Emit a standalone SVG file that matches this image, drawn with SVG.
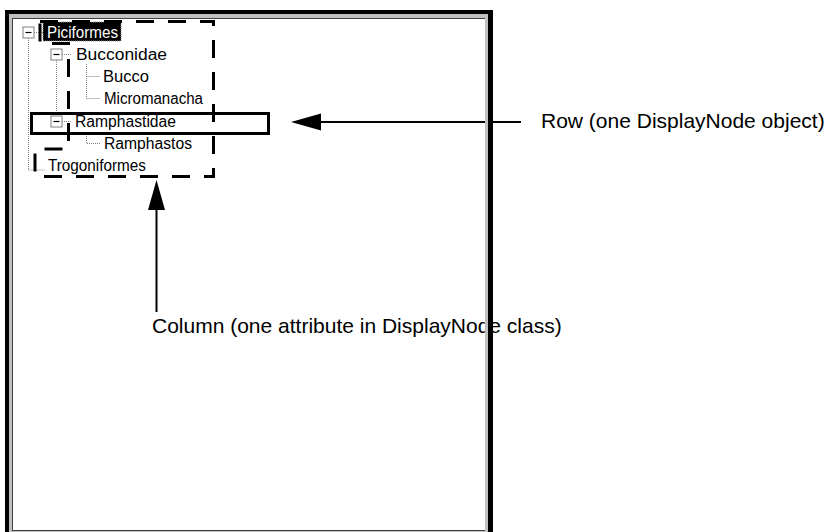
<svg xmlns="http://www.w3.org/2000/svg" width="830" height="532" viewBox="0 0 830 532">
<style>
.tree{font-family:"Liberation Sans",Arial,sans-serif;font-size:16px;fill:#000}
.lbl{font-family:"Liberation Sans",Arial,sans-serif;font-size:21px;fill:#000}
.dot{stroke:#808080;stroke-width:1;stroke-dasharray:1 1;fill:none}
.btn{fill:#fff;stroke:#808080;stroke-width:1}
.minus{stroke:#000;stroke-width:1.2}
.conn{stroke:#000;stroke-width:2;fill:none}
.head{fill:#000}
</style>
<rect width="830" height="532" fill="#fff"/>
<g id="frame">
<rect x="5" y="10" width="488" height="524" fill="#000"/>
<rect x="9" y="14" width="480" height="520" fill="#c0c0c0"/>
<rect x="12" y="18" width="474" height="513" fill="#404040"/>
<rect x="13" y="19" width="472" height="511" fill="#fff"/>
</g>
<g id="tree-lines">
<path class="dot" d="M28.5,38 V170 H45"/>
<path class="dot" d="M34,32.5 H43"/>
<path class="dot" d="M56.5,60 V115"/>
<path class="dot" d="M62,54.5 H72 M62,121.5 H72"/>
<path class="dot" d="M86.5,64 V98.5 M86.5,76.5 H100 M86.5,98.5 H100"/>
<path class="dot" d="M86.5,132 V143.5 H100"/>
</g>
<g id="node-piciformes">
<rect class="btn" x="23" y="27" width="11" height="11"/>
<line class="minus" x1="25.5" y1="32.5" x2="31.5" y2="32.5"/>
<rect x="43" y="22" width="78" height="19" fill="#000" stroke="#999" stroke-dasharray="1 1"/>
<text class="tree" x="47" y="37.5" textLength="71" lengthAdjust="spacingAndGlyphs" style="fill:#fff">Piciformes</text>
</g>
<g id="node-bucconidae">
<rect class="btn" x="51" y="49" width="11" height="11"/>
<line class="minus" x1="53.5" y1="54.5" x2="59.5" y2="54.5"/>
<text class="tree" x="76" y="59.5" textLength="91" lengthAdjust="spacingAndGlyphs">Bucconidae</text>
</g>
<g id="node-bucco">
<text class="tree" x="103" y="82" textLength="46" lengthAdjust="spacingAndGlyphs">Bucco</text>
</g>
<g id="node-micromanacha">
<text class="tree" x="104" y="104" textLength="99" lengthAdjust="spacingAndGlyphs">Micromanacha</text>
</g>
<g id="node-ramphastidae">
<rect class="btn" x="51" y="116" width="11" height="11"/>
<line class="minus" x1="53.5" y1="121.5" x2="59.5" y2="121.5"/>
<text class="tree" x="75" y="126.5" textLength="101" lengthAdjust="spacingAndGlyphs">Ramphastidae</text>
</g>
<g id="node-ramphastos">
<text class="tree" x="104" y="148.5" textLength="88" lengthAdjust="spacingAndGlyphs">Ramphastos</text>
</g>
<g id="node-trogoniformes">
<text class="tree" x="48" y="170.5" textLength="98" lengthAdjust="spacingAndGlyphs">Trogoniformes</text>
</g>
<g id="column-highlight">
<path d="M40,21.5 H213.5 V176.5 H35 V149 H68.5 V43.5 H40 Z" fill="none" stroke="#000" stroke-width="3" stroke-dasharray="18 14"/>
</g>
<g id="row-highlight">
<rect x="31.5" y="113.5" width="237" height="20" fill="none" stroke="#000" stroke-width="3"/>
</g>
<g id="connectors">
<line class="conn" x1="521" y1="122" x2="318" y2="122"/>
<polygon class="head" points="291,122 321,113.5 321,130.5"/>
<line class="conn" x1="156.5" y1="312" x2="156.5" y2="207"/>
<polygon class="head" points="156.5,180 148,210 165,210"/>
</g>
<g id="label-row">
<text class="lbl" x="541" y="128">Row (one DisplayNode object)</text>
</g>
<g id="label-column">
<text class="lbl" x="152" y="333">Column (one attribute in DisplayNode class)</text>
</g>
<g id="frame-right-edge">
<rect x="488" y="10" width="5" height="524" fill="#000"/>
<rect x="485" y="14" width="3" height="520" fill="#c0c0c0"/>
</g>
</svg>
